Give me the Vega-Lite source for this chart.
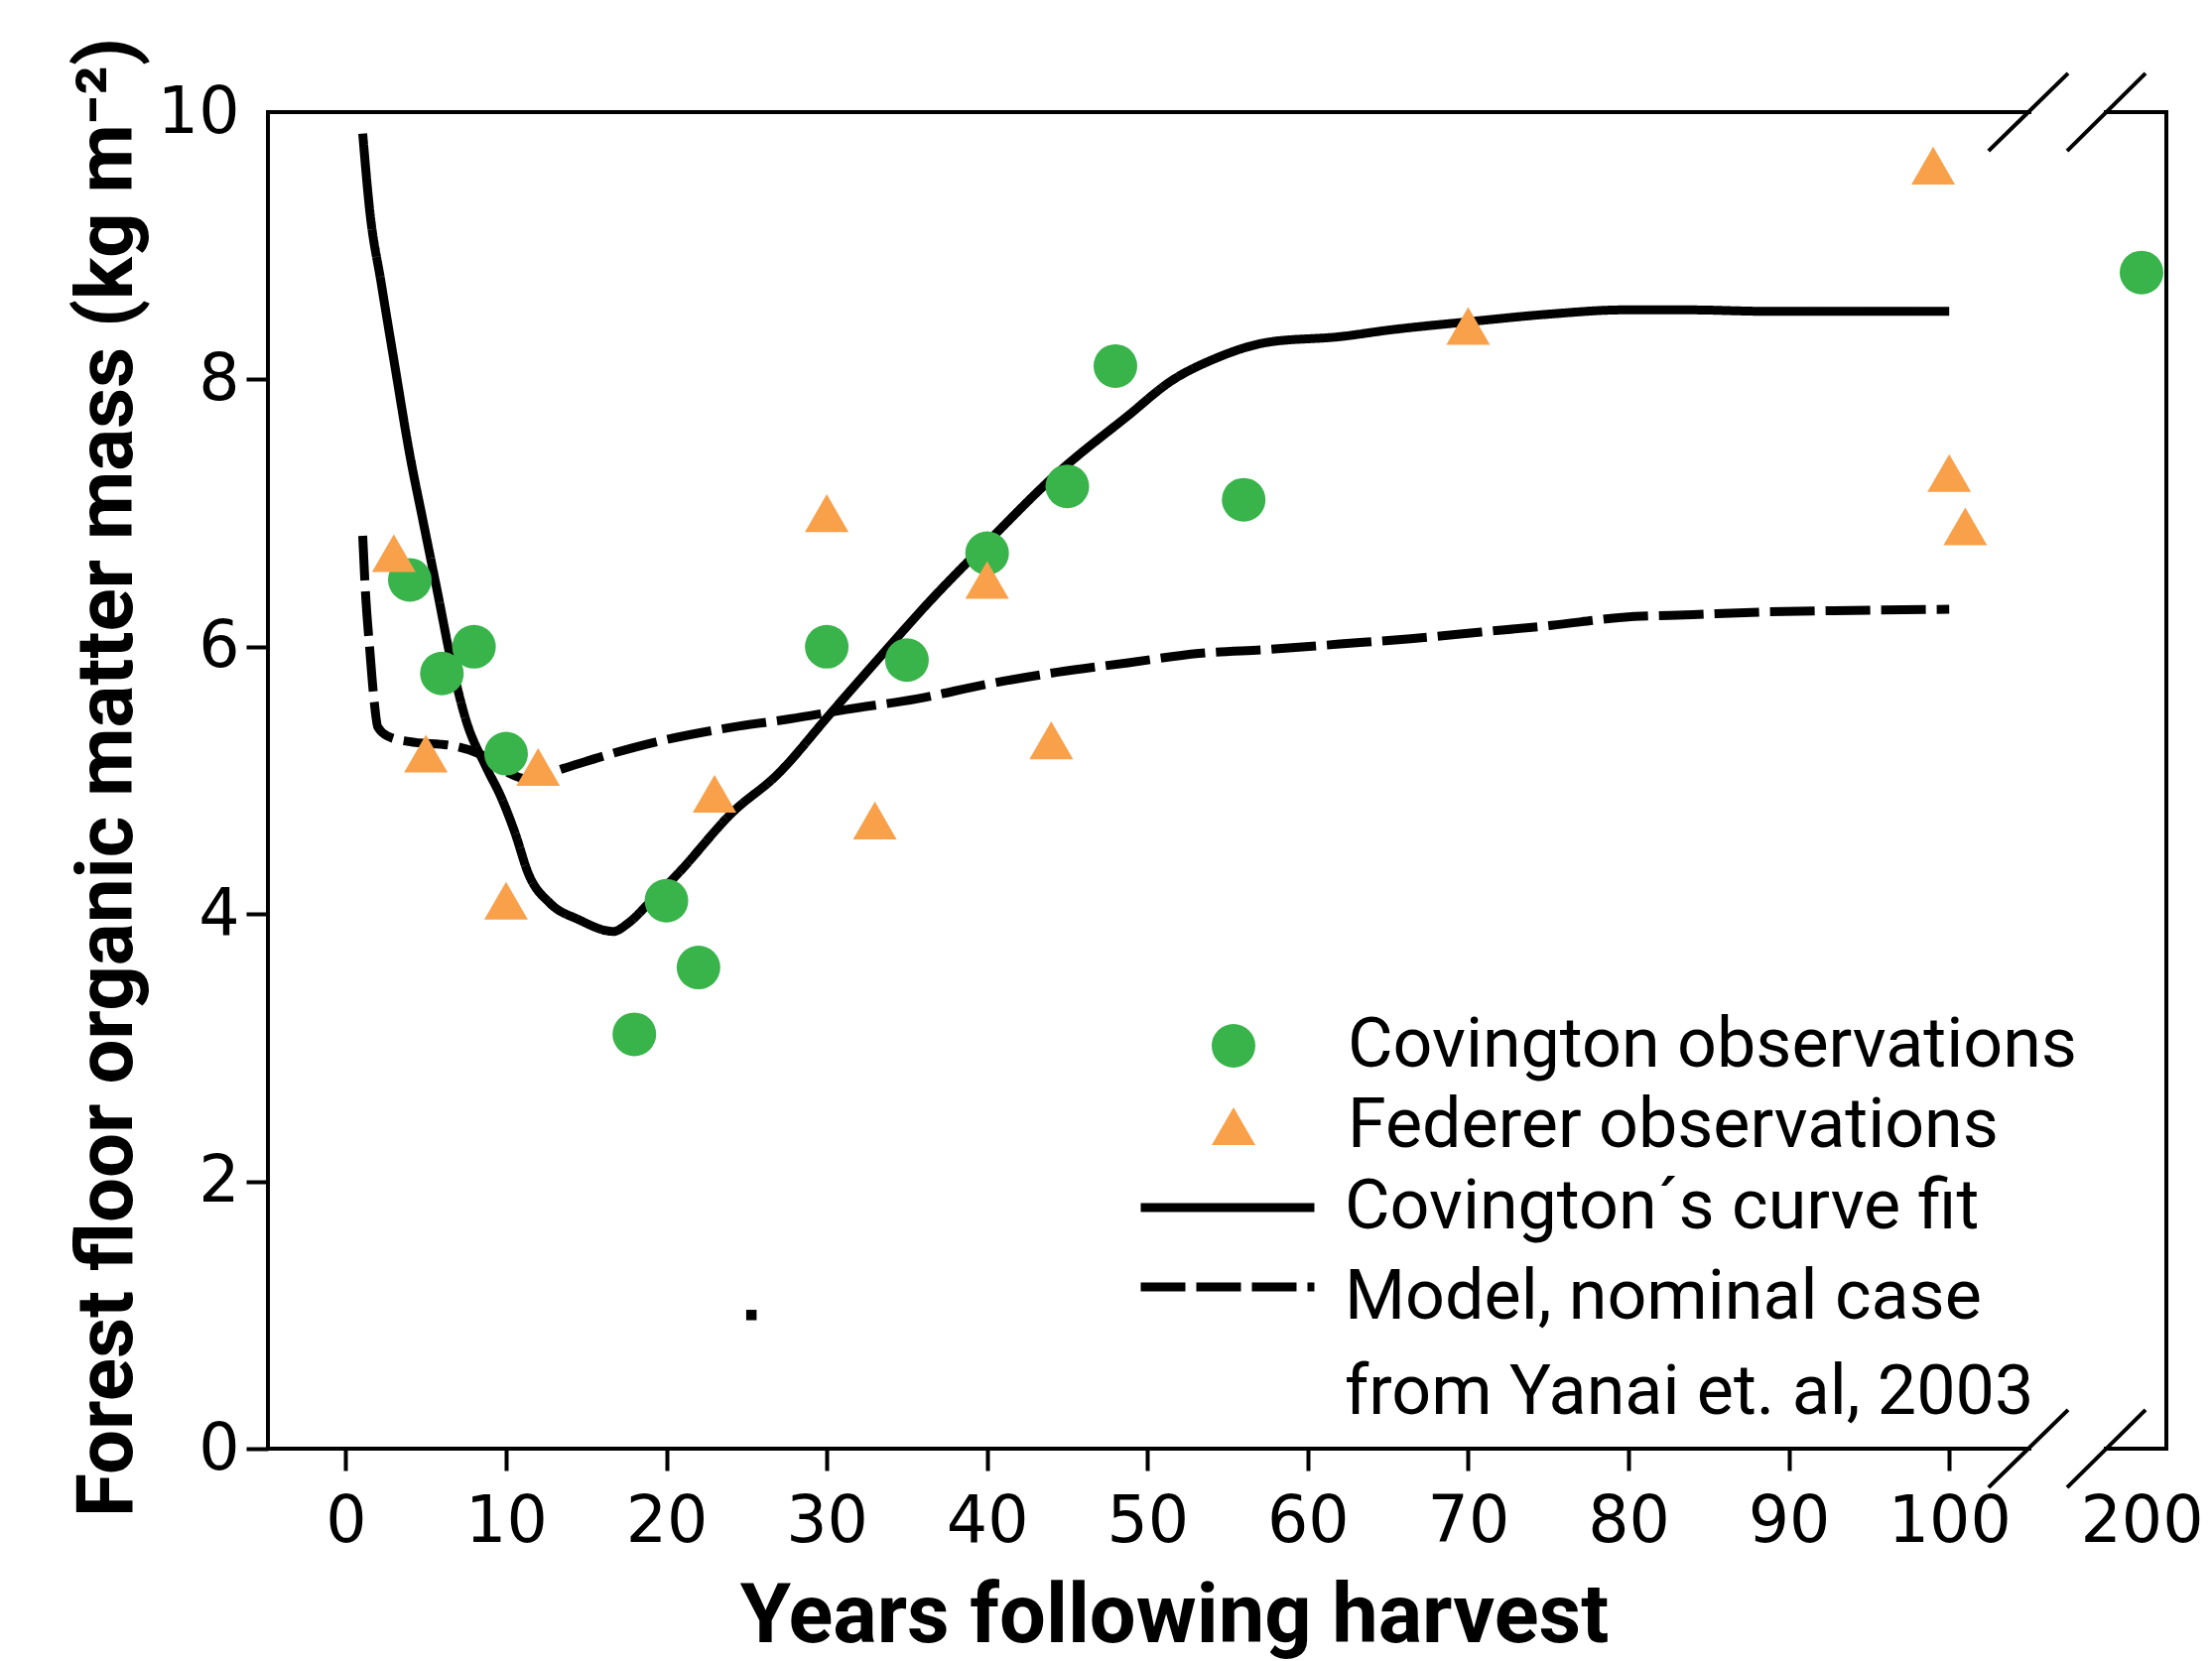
{
  "$schema": "https://vega.github.io/schema/vega-lite/v6.json",
  "autosize": {"type": "none"},
  "padding": {"left": 270, "top": 113, "right": 46, "bottom": 214},
  "width": 1913,
  "height": 1347,
  "background": "white",
  "config": {
    "view": {"stroke": null},
    "axis": {"grid": false}
  },
  "datasets": {
    "frame": [
      {"year": -4.85, "year2": -4.85, "value": 0, "value2": 10},
      {"year": 201.55, "year2": 201.55, "value": 0, "value2": 10},
      {"year": -4.85, "year2": 105, "value": 10, "value2": 10},
      {"year": 197.77, "year2": 201.55, "value": 10, "value2": 10},
      {"year": -4.85, "year2": 105, "value": 0, "value2": 0},
      {"year": 197.77, "year2": 201.55, "value": 0, "value2": 0}
    ],
    "breaks": [
      {"year": 102.45, "year2": 151.99, "value": 9.71, "value2": 10.29},
      {"year": 150.78, "year2": 200.25, "value": 9.71, "value2": 10.29},
      {"year": 102.45, "year2": 151.99, "value": -0.29, "value2": 0.29},
      {"year": 150.78, "year2": 200.25, "value": -0.29, "value2": 0.29}
    ],
    "curves": [
      {"series": "Covington´s curve fit", "year": 1.06, "value": 9.84},
      {"series": "Covington´s curve fit", "year": 1.5, "value": 9.26},
      {"series": "Covington´s curve fit", "year": 2.2, "value": 8.73},
      {"series": "Covington´s curve fit", "year": 3.08, "value": 8.09},
      {"series": "Covington´s curve fit", "year": 3.96, "value": 7.46},
      {"series": "Covington´s curve fit", "year": 4.84, "value": 6.93},
      {"series": "Covington´s curve fit", "year": 5.72, "value": 6.41},
      {"series": "Covington´s curve fit", "year": 6.6, "value": 5.88},
      {"series": "Covington´s curve fit", "year": 7.48, "value": 5.46},
      {"series": "Covington´s curve fit", "year": 8.8, "value": 5.09},
      {"series": "Covington´s curve fit", "year": 9.67, "value": 4.88},
      {"series": "Covington´s curve fit", "year": 10.55, "value": 4.61},
      {"series": "Covington´s curve fit", "year": 11.4, "value": 4.3},
      {"series": "Covington´s curve fit", "year": 12.75, "value": 4.08},
      {"series": "Covington´s curve fit", "year": 14.5, "value": 3.96},
      {"series": "Covington´s curve fit", "year": 16.7, "value": 3.87},
      {"series": "Covington´s curve fit", "year": 17.6, "value": 3.93},
      {"series": "Covington´s curve fit", "year": 18.9, "value": 4.08},
      {"series": "Covington´s curve fit", "year": 20.7, "value": 4.3},
      {"series": "Covington´s curve fit", "year": 24.2, "value": 4.77},
      {"series": "Covington´s curve fit", "year": 26.8, "value": 5.03},
      {"series": "Covington´s curve fit", "year": 30.3, "value": 5.51},
      {"series": "Covington´s curve fit", "year": 33.0, "value": 5.88},
      {"series": "Covington´s curve fit", "year": 36.5, "value": 6.35},
      {"series": "Covington´s curve fit", "year": 40.0, "value": 6.78},
      {"series": "Covington´s curve fit", "year": 44.4, "value": 7.3},
      {"series": "Covington´s curve fit", "year": 48.8, "value": 7.73},
      {"series": "Covington´s curve fit", "year": 51.5, "value": 7.99},
      {"series": "Covington´s curve fit", "year": 54.1, "value": 8.15},
      {"series": "Covington´s curve fit", "year": 57.6, "value": 8.28},
      {"series": "Covington´s curve fit", "year": 62.0, "value": 8.32},
      {"series": "Covington´s curve fit", "year": 65.1, "value": 8.37},
      {"series": "Covington´s curve fit", "year": 69.9, "value": 8.43},
      {"series": "Covington´s curve fit", "year": 75.2, "value": 8.49},
      {"series": "Covington´s curve fit", "year": 79.6, "value": 8.52},
      {"series": "Covington´s curve fit", "year": 84.0, "value": 8.52},
      {"series": "Covington´s curve fit", "year": 88.4, "value": 8.51},
      {"series": "Covington´s curve fit", "year": 92.8, "value": 8.51},
      {"series": "Covington´s curve fit", "year": 100.0, "value": 8.51},
      {"series": "Model, nominal case from Yanai et. al, 2003", "year": 1.06, "value": 6.83},
      {"series": "Model, nominal case from Yanai et. al, 2003", "year": 1.23, "value": 6.41},
      {"series": "Model, nominal case from Yanai et. al, 2003", "year": 1.5, "value": 5.98},
      {"series": "Model, nominal case from Yanai et. al, 2003", "year": 1.76, "value": 5.61},
      {"series": "Model, nominal case from Yanai et. al, 2003", "year": 2.0, "value": 5.4},
      {"series": "Model, nominal case from Yanai et. al, 2003", "year": 2.64, "value": 5.33},
      {"series": "Model, nominal case from Yanai et. al, 2003", "year": 3.96, "value": 5.29},
      {"series": "Model, nominal case from Yanai et. al, 2003", "year": 6.6, "value": 5.26},
      {"series": "Model, nominal case from Yanai et. al, 2003", "year": 8.8, "value": 5.17},
      {"series": "Model, nominal case from Yanai et. al, 2003", "year": 10.1, "value": 5.06},
      {"series": "Model, nominal case from Yanai et. al, 2003", "year": 11.4, "value": 5.01},
      {"series": "Model, nominal case from Yanai et. al, 2003", "year": 13.6, "value": 5.09},
      {"series": "Model, nominal case from Yanai et. al, 2003", "year": 16.3, "value": 5.19},
      {"series": "Model, nominal case from Yanai et. al, 2003", "year": 19.8, "value": 5.3},
      {"series": "Model, nominal case from Yanai et. al, 2003", "year": 24.2, "value": 5.4},
      {"series": "Model, nominal case from Yanai et. al, 2003", "year": 27.7, "value": 5.46},
      {"series": "Model, nominal case from Yanai et. al, 2003", "year": 31.2, "value": 5.53},
      {"series": "Model, nominal case from Yanai et. al, 2003", "year": 35.6, "value": 5.61},
      {"series": "Model, nominal case from Yanai et. al, 2003", "year": 40.0, "value": 5.72},
      {"series": "Model, nominal case from Yanai et. al, 2003", "year": 44.4, "value": 5.81},
      {"series": "Model, nominal case from Yanai et. al, 2003", "year": 48.8, "value": 5.88},
      {"series": "Model, nominal case from Yanai et. al, 2003", "year": 53.2, "value": 5.95},
      {"series": "Model, nominal case from Yanai et. al, 2003", "year": 57.6, "value": 5.98},
      {"series": "Model, nominal case from Yanai et. al, 2003", "year": 62.0, "value": 6.02},
      {"series": "Model, nominal case from Yanai et. al, 2003", "year": 66.4, "value": 6.06},
      {"series": "Model, nominal case from Yanai et. al, 2003", "year": 70.8, "value": 6.11},
      {"series": "Model, nominal case from Yanai et. al, 2003", "year": 75.2, "value": 6.16},
      {"series": "Model, nominal case from Yanai et. al, 2003", "year": 79.6, "value": 6.22},
      {"series": "Model, nominal case from Yanai et. al, 2003", "year": 84.0, "value": 6.24},
      {"series": "Model, nominal case from Yanai et. al, 2003", "year": 88.4, "value": 6.26},
      {"series": "Model, nominal case from Yanai et. al, 2003", "year": 92.8, "value": 6.27},
      {"series": "Model, nominal case from Yanai et. al, 2003", "year": 100.0, "value": 6.28}
    ],
    "obs": [
      {"series": "Covington observations", "year": 4, "value": 6.5},
      {"series": "Covington observations", "year": 6, "value": 5.8},
      {"series": "Covington observations", "year": 8, "value": 6.0},
      {"series": "Covington observations", "year": 10, "value": 5.2},
      {"series": "Covington observations", "year": 18, "value": 3.1},
      {"series": "Covington observations", "year": 20, "value": 4.1},
      {"series": "Covington observations", "year": 22, "value": 3.6},
      {"series": "Covington observations", "year": 30, "value": 6.0},
      {"series": "Covington observations", "year": 35, "value": 5.9},
      {"series": "Covington observations", "year": 40, "value": 6.7},
      {"series": "Covington observations", "year": 45, "value": 7.2},
      {"series": "Covington observations", "year": 48, "value": 8.1},
      {"series": "Covington observations", "year": 56, "value": 7.1},
      {"series": "Covington observations", "year": 200, "value": 8.8},
      {"series": "Federer observations", "year": 3, "value": 6.7},
      {"series": "Federer observations", "year": 5, "value": 5.2},
      {"series": "Federer observations", "year": 10, "value": 4.1},
      {"series": "Federer observations", "year": 12, "value": 5.1},
      {"series": "Federer observations", "year": 23, "value": 4.9},
      {"series": "Federer observations", "year": 30, "value": 7.0},
      {"series": "Federer observations", "year": 33, "value": 4.7},
      {"series": "Federer observations", "year": 40, "value": 6.5},
      {"series": "Federer observations", "year": 44, "value": 5.3},
      {"series": "Federer observations", "year": 70, "value": 8.4},
      {"series": "Federer observations", "year": 99, "value": 9.6},
      {"series": "Federer observations", "year": 100, "value": 7.3},
      {"series": "Federer observations", "year": 101, "value": 6.9}
    ],
    "stray": [
      {"year": 25.3, "value": 1.0}
    ]
  },
  "encoding": {
    "x": {
      "field": "year",
      "type": "quantitative",
      "title": "Years following harvest",
      "scale": {"domain": [-4.85, 105, 197.77, 201.55], "range": [0, 1775, 1852, 1913], "nice": false, "zero": false},
      "axis": {
        "values": [0, 10, 20, 30, 40, 50, 60, 70, 80, 90, 100, 200],
        "domain": false,
        "ticks": true,
        "tickColor": "black",
        "tickWidth": 4,
        "tickSize": 22,
        "tickOpacity": {"condition": {"test": "datum.value == 200", "value": 0}, "value": 1},
        "labelFont": "DejaVu Sans",
        "labelFontSize": 65,
        "labelColor": "black",
        "labelPadding": 20,
        "labelFlush": false,
        "labelOverlap": false,
        "labelBound": false,
        "titleFont": "Roboto",
        "titleFontSize": 83,
        "titleFontWeight": "bold",
        "titleColor": "black",
        "titleX": 913,
        "titleY": 194,
        "titleBaseline": "alphabetic",
        "titleAlign": "center"
      }
    },
    "y": {
      "field": "value",
      "type": "quantitative",
      "title": "Forest floor organic matter mass (kg m⁻²)",
      "scale": {"domain": [0, 10], "nice": false, "zero": false},
      "axis": {
        "values": [0, 2, 4, 6, 8, 10],
        "domain": false,
        "ticks": true,
        "tickColor": "black",
        "tickWidth": 4,
        "tickSize": 22,
        "tickOpacity": {"condition": {"test": "datum.value == 10", "value": 0}, "value": 1},
        "labelFont": "DejaVu Sans",
        "labelFontSize": 65,
        "labelColor": "black",
        "labelPadding": 7,
        "labelFlush": false,
        "labelOverlap": false,
        "titleFont": "Roboto",
        "titleFontSize": 80,
        "titleFontWeight": "bold",
        "titleColor": "black",
        "titleAngle": 270,
        "titleX": -138,
        "titleY": 670,
        "titleBaseline": "alphabetic",
        "titleAlign": "center"
      }
    }
  },
  "layer": [
    {
      "data": {"name": "frame"},
      "mark": {"type": "rule", "color": "black", "strokeWidth": 4, "strokeCap": "square"},
      "encoding": {"x2": {"field": "year2"}, "y2": {"field": "value2"}}
    },
    {
      "data": {"name": "breaks"},
      "mark": {"type": "rule", "color": "black", "strokeWidth": 4},
      "encoding": {"x2": {"field": "year2"}, "y2": {"field": "value2"}}
    },
    {
      "data": {"name": "curves"},
      "mark": {"type": "line", "color": "black", "strokeWidth": 9, "interpolate": "monotone"},
      "encoding": {
        "strokeDash": {
          "field": "series",
          "type": "nominal",
          "scale": {
            "domain": ["Covington´s curve fit", "Model, nominal case from Yanai et. al, 2003"],
            "range": [[1, 0], [45, 11]]
          },
          "legend": {
            "orient": "none",
            "legendX": 932,
            "legendY": 1069,
            "title": null,
            "direction": "vertical",
            "padding": 0,
            "symbolType": "M-4,0H4",
            "symbolSize": 1914,
            "symbolStrokeWidth": 9,
            "symbolStrokeColor": "black",
            "symbolFillColor": "transparent",
            "labelFont": "Roboto",
            "labelFontSize": 70,
            "labelColor": "black",
            "labelLimit": 2000,
            "labelOffset": 83,
            "rowPadding": 10,
            "labelExpr": "datum.label == 'Model, nominal case from Yanai et. al, 2003' ? ['Model, nominal case', 'from Yanai et. al, 2003'] : datum.label",
            "encode": {"labels": {"update": {"lineHeight": {"value": 96}, "dy": {"signal": "datum.index === 1 ? 11 : 0"}}}}
          }
        }
      }
    },
    {
      "data": {"name": "obs"},
      "mark": {"type": "point", "filled": true, "opacity": 1, "size": 1936, "strokeWidth": 0},
      "encoding": {
        "color": {
          "field": "series",
          "type": "nominal",
          "scale": {"domain": ["Covington observations", "Federer observations"], "range": ["#38b44a", "#f8a14a"]},
          "legend": {
            "orient": "none",
            "legendX": 938,
            "legendY": 906,
            "title": null,
            "direction": "vertical",
            "padding": 0,
            "symbolSize": 1936,
            "symbolStrokeWidth": 0,
            "symbolOpacity": 1,
            "labelFont": "Roboto",
            "labelFontSize": 70,
            "labelColor": "black",
            "labelLimit": 2000,
            "labelOffset": 80,
            "rowPadding": 11
          }
        },
        "shape": {
          "field": "series",
          "type": "nominal",
          "scale": {"domain": ["Covington observations", "Federer observations"], "range": ["circle", "triangle-up"]},
          "legend": {
            "orient": "none",
            "legendX": 938,
            "legendY": 906,
            "title": null,
            "direction": "vertical",
            "padding": 0,
            "symbolSize": 1936,
            "symbolStrokeWidth": 0,
            "symbolOpacity": 1,
            "labelFont": "Roboto",
            "labelFontSize": 70,
            "labelColor": "black",
            "labelLimit": 2000,
            "labelOffset": 80,
            "rowPadding": 11
          }
        }
      }
    },
    {
      "data": {"name": "stray"},
      "mark": {"type": "square", "color": "black", "size": 110, "opacity": 1}
    }
  ]
}
